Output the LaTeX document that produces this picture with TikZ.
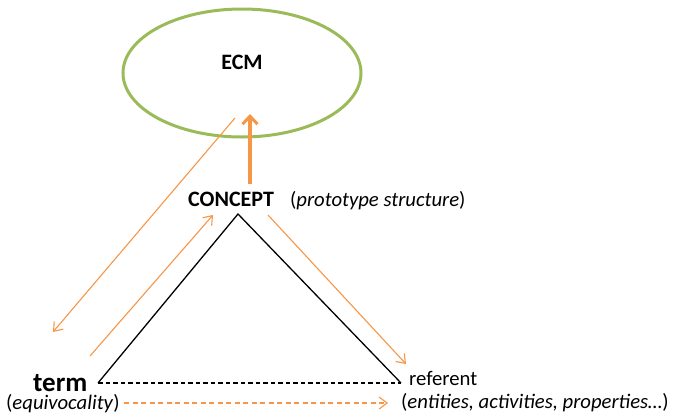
\documentclass[tikz,border=0pt]{standalone}
\usepackage{fontspec}
\setmainfont{Carlito}
\usetikzlibrary{arrows.meta}
\definecolor{ecmgreen}{HTML}{9BBB59}
\definecolor{linkorange}{HTML}{F79646}
\tikzset{
  lbl/.style={inner sep=0pt, font=\fontsize{20.7}{24}\selectfont},
  boldlbl/.style={inner sep=0pt, font=\fontsize{22}{26}\selectfont\bfseries},
  side/.style={draw=black, line width=1.3pt},
  thinlink/.style={draw=linkorange, line width=1.1pt,
    -{Straight Barb[length=8pt,width=12pt,line width=1.1pt]}},
  mainlink/.style={draw=linkorange, line width=3.5pt,
    -{Straight Barb[length=8pt,width=15pt,line width=3pt]}}
}
\begin{document}
\begin{tikzpicture}[x=1pt,y=-1pt]
  \useasboundingbox (0,0) rectangle (673,418);

  % ECM ellipse
  \draw[ecmgreen, line width=3pt] (242,73) ellipse [x radius=119, y radius=64];
  \node[boldlbl, anchor=base] (ecm) at (242,69) {ECM};

  % semiotic triangle
  \coordinate (apex) at (238,214);
  \coordinate (tl) at (98,383);
  \coordinate (tr) at (401,383);
  \draw[side] (tl) -- (apex) -- (tr);
  \draw[side, dash pattern=on 4.5pt off 3pt] (tl) -- (tr);

  % labels
  \node[boldlbl, anchor=base west] (concept) at (188,206) {CONCEPT};
  \node[lbl, anchor=base west] (proto) at (290,206) {(\textit{prototype structure})};
  \node[inner sep=0pt, anchor=base west, font=\fontsize{27}{30}\selectfont\bfseries] (term) at (33,391) {term};
  \node[lbl, anchor=base west] (equiv) at (6,409) {(\textit{equivocality})};
  \node[lbl, anchor=base west] (ref) at (409,385) {referent};
  \node[lbl, anchor=base west] (refex) at (401,408) {(\textit{entities, activities, properties…})};

  % orange connectors
  \coordinate (cbase) at (250,184);
  \coordinate (ctip) at (250,114);
  \draw[mainlink] (cbase) -- (ctip);

  \coordinate (ea) at (235,118);
  \coordinate (eb) at (53,332);
  \draw[thinlink] (ea) -- (eb);

  \coordinate (ta) at (90,356);
  \coordinate (tb) at (213,215);
  \draw[thinlink] (ta) -- (tb);

  \coordinate (ra) at (268,215);
  \coordinate (rb) at (406,364);
  \draw[thinlink] (ra) -- (rb);

  \coordinate (da) at (124,403);
  \coordinate (db) at (388,403);
  \draw[thinlink, dash pattern=on 5pt off 3.5pt] (da) -- (db);
\end{tikzpicture}
\end{document}
